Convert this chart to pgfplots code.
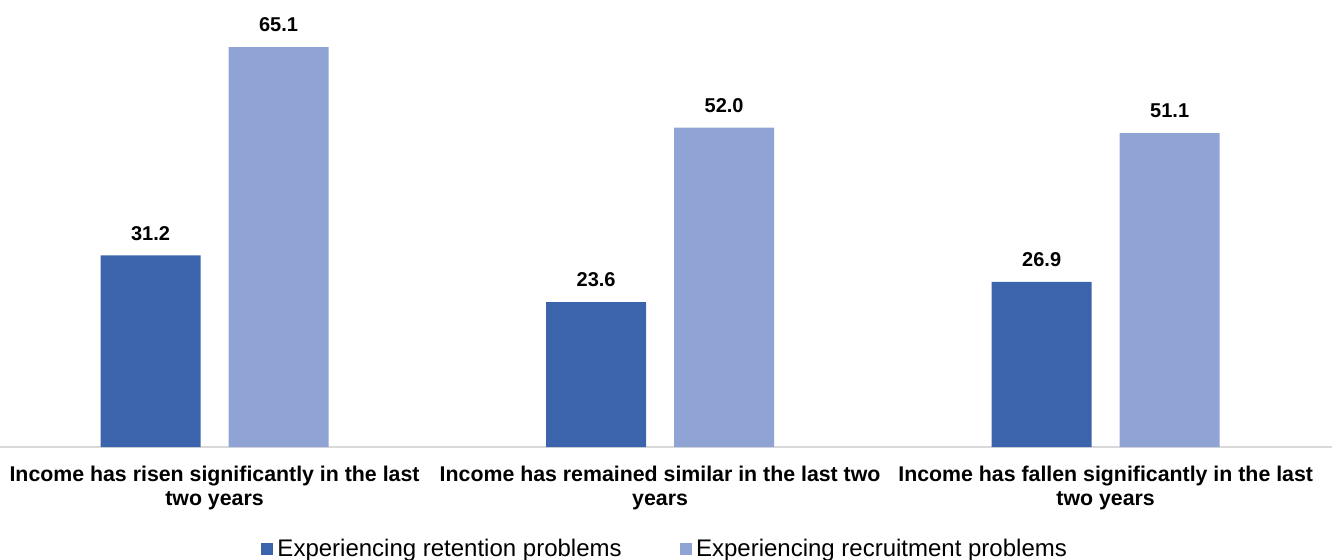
\documentclass[border=0pt]{standalone}
\usepackage{pgfplots}
\pgfplotsset{compat=1.18}
\usepackage{fontspec}
\setmainfont{Liberation Sans}
\definecolor{darkb}{RGB}{60,100,172}
\definecolor{lightb}{RGB}{143,163,212}
\definecolor{axisgray}{RGB}{217,217,217}
\begin{document}
\begin{tikzpicture}
\useasboundingbox (0,-56pt) rectangle (666pt,223.5pt);
\begin{axis}[
  at={(0,0)}, anchor=south west,
  scale only axis, width=666pt, height=215pt,
  ybar, bar width=50pt, ybar=14pt,
  xmin=-0.4815, xmax=2.508, ymin=0, ymax=70,
  axis x line=bottom, axis y line=none,
  x axis line style={draw=axisgray, line width=1pt, -},
  xtick={0,1,2}, xtick style={draw=none},
  xticklabels={{Income has risen significantly in the last\\two years},{Income has remained similar in the last two\\years},{Income has fallen significantly in the last\\two years}},
  xticklabel style={align=center, font=\fontsize{10.66}{12}\selectfont\bfseries, yshift=-4pt},
  ytick=\empty,
  clip=false,
  nodes near coords,
  /pgf/number format/.cd, fixed, precision=1, fixed zerofill, assume math mode=true,
  /pgfplots/.cd,
  nodes near coords style={font=\fontsize{10}{12}\selectfont\bfseries, yshift=4pt, text=black},
  legend columns=2,
  legend style={at={(0.5,-0.2372)}, anchor=center, draw=none, fill=none,
    font=\fontsize{12}{14}\selectfont,
    nodes={inner xsep=2pt},
    /tikz/every even column/.append style={column sep=27pt},
    /tikz/every odd column/.append style={column sep=0pt}},
  legend image code/.code={\fill[#1] (0pt,-3.1pt) rectangle (6.2pt,3.1pt);},
]
\addplot[fill=darkb, draw=none] coordinates {(0,31.2) (1,23.6) (2,26.9)};
\addplot[fill=lightb, draw=none] coordinates {(0,65.1) (1,52.0) (2,51.1)};
\legend{Experiencing retention problems, Experiencing recruitment problems}
\end{axis}
\end{tikzpicture}
\end{document}
